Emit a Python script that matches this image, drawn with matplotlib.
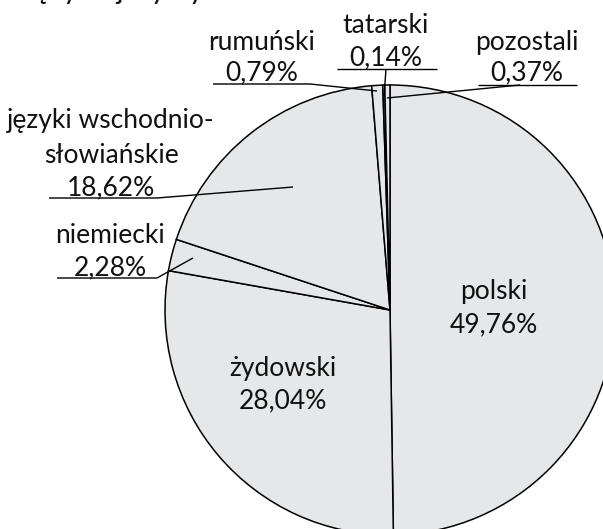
import matplotlib
matplotlib.use("Agg")
import matplotlib.pyplot as plt

# ---- data ----
categories = ["polski", "żydowski", "niemiecki", "języki wschodnio-\nsłowiańskie",
              "rumuński", "tatarski", "pozostali"]
values = [49.76, 28.04, 2.28, 18.62, 0.79, 0.14, 0.37]
title = "Język ojczysty"

W, H = 603, 529
plt.rcParams['font.family'] = ['Lato', 'DejaVu Sans']
fig = plt.figure(figsize=(W / 100, H / 100), dpi=100)
ax = fig.add_axes([0, 0, 1, 1])

def Y(y):
    return H - y

cx, cy, r = 390, 310, 225
ax.pie(values, center=(cx, Y(cy)), radius=r, startangle=90, counterclock=False,
       colors=["#e6e7e8"] * len(values),
       wedgeprops=dict(edgecolor="black", linewidth=1.1))

ax.set_xlim(0, W)
ax.set_ylim(0, H)
ax.set_aspect("equal")
ax.axis("off")

fs = 19
def pct(v):
    return f"{v:.2f}".replace(".", ",") + "%"

# label layout: (center x, list of baselines) in pixel coords
layout = {
    "polski": (494, [299, 332]),
    "żydowski": (283, [376, 408]),
    "niemiecki": (110, [243, 275]),
    "języki wschodnio-\nsłowiańskie": (111, [128, 163, 195]),
    "rumuński": (262, [50, 80]),
    "tatarski": (386, [33, 65]),
    "pozostali": (527, [50, 80]),
}
leaders = {
    "niemiecki": [(57, 278), (157, 278), (193, 258)],
    "języki wschodnio-\nsłowiańskie": [(49, 198), (157, 198), (293, 187)],
    "rumuński": [(213, 84), (310, 84), (377, 91)],
    "tatarski": [(337, 69), (437, 69), (386, 69), (384, 96)],
    "pozostali": [(478, 85), (577, 85), (520, 85), (387, 98)],
}

for cat, val in zip(categories, values):
    x, bases = layout[cat]
    lines = cat.split("\n") + [pct(val)]
    for txt, b in zip(lines, bases):
        ax.text(x, Y(b), txt, ha="center", va="baseline", fontsize=fs, color="#111111")
    if cat in leaders:
        pts = leaders[cat]
        if cat in ("tatarski", "pozostali"):
            segs = [pts[0:2], pts[2:4]]
        else:
            segs = [pts]
        for s in segs:
            ax.plot([p[0] for p in s], [Y(p[1]) for p in s], color="black", lw=1.0,
                    solid_capstyle="butt")

# cut-off title at the top (only its descenders are visible)
ax.text(22, Y(-1), title, ha="left", va="baseline", fontsize=fs + 2, color="#111111",
        clip_on=False)

fig.savefig("out.png", dpi=100)
